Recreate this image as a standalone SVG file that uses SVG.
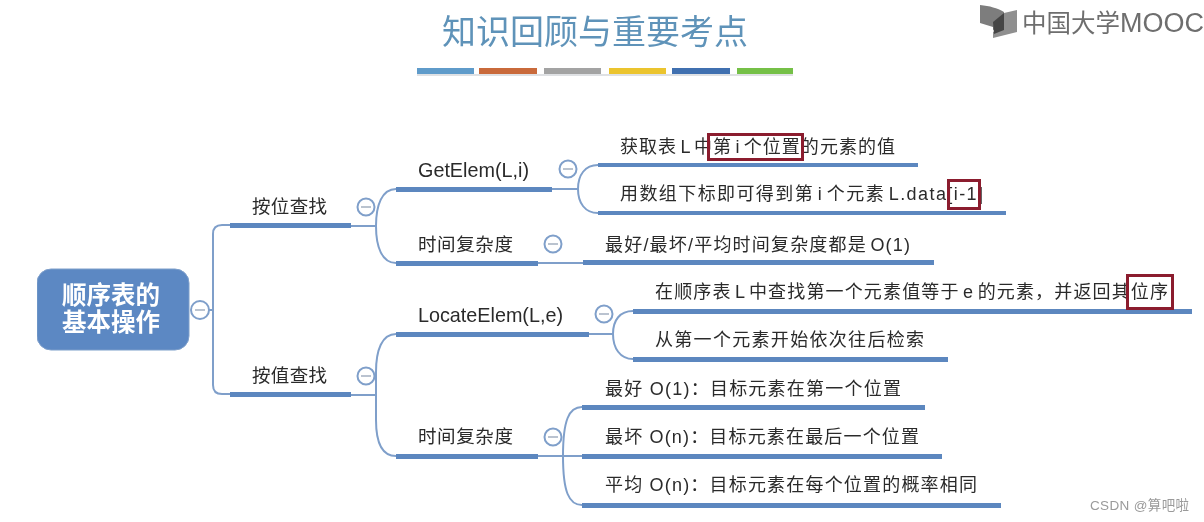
<svg xmlns="http://www.w3.org/2000/svg" width="1204" height="522" viewBox="0 0 1204 522">
<style>
text{font-family:"Liberation Sans","Noto Sans CJK SC",sans-serif;fill:#2b2b2b}
.t{font-size:18px;word-spacing:-2.75px}
.k{font-size:18.500px}
.e{font-size:19.800px}
.b{font-size:18.500px}
.bar{fill:#5b87bf}
.c{fill:none;stroke:#7f9fca;stroke-width:2}
.o{fill:#fff;stroke:#7f9fca;stroke-width:2}
.m{stroke:#a9b4c4;stroke-width:1.6}
.r{fill:none;stroke:#8b1a2e;stroke-width:3}
</style>
<defs><filter id="soft" x="0" y="0" width="100%" height="100%"><feGaussianBlur stdDeviation="0.45"/></filter></defs>
<rect width="1204" height="522" fill="#fff"/>
<g filter="url(#soft)">
<g id="title">
<text x="442" y="44" font-size="34" textLength="306" style="fill:#5f93b9">知识回顾与重要考点</text>
<rect x="417" y="68" width="57" height="6" fill="#5f9bca"/>
<rect x="479" y="68" width="58" height="6" fill="#c96b3b"/>
<rect x="544" y="68" width="57" height="6" fill="#a3a3a3"/>
<rect x="609" y="68" width="57" height="6" fill="#ebc42d"/>
<rect x="672" y="68" width="58" height="6" fill="#3f6fb0"/>
<rect x="737" y="68" width="56" height="6" fill="#74c046"/>
<rect x="417" y="74" width="376" height="2" fill="#dfe1e4"/>
</g>
<g id="logo">
<path d="M980 5C990 6 997 8 1004 12L1004 26L993 30L993 27L980 23Z" fill="#7d7d7d"/>
<polygon points="1004,13 1017,10 1017,32 993,38 993,32 1004,28" fill="#8f8f8f"/>
<polygon points="1004,13 1004,30 994,34 993,22" fill="#454545"/>
<text y="32" style="fill:#6e6e6e"><tspan x="1022" font-size="24.500">中国大学</tspan><tspan x="1120" font-size="27">MOOC</tspan></text>
</g>
<g id="connectors">
<path class="c" d="M209 310H213M230 225H222Q213 225 213 234V385Q213 394 222 394H230"/>
<path class="c" d="M351 226H376M396 189C382 189 376 205 376 226C376 247 382 263 396 263"/>
<path class="c" d="M351 395H376M396 334C382 334 376 350 376 372V420C376 442 382 456 396 456"/>
<path class="c" d="M552 189H578M598 165C585 165 578 175 578 189C578 203 585 213 598 213"/>
<path class="c" d="M538 263H583"/>
<path class="c" d="M589 334H613M633 311C620 311 613 320 613 334C613 348 620 359 633 359"/>
<path class="c" d="M538 456H582M582 407C569 407 563 420 563 456C563 492 569 505 582 505"/>
</g>
<g id="root">
<rect x="37" y="269" width="152" height="81" rx="14" fill="#5b88c3" stroke="#7f9fca" stroke-width="1"/>
<text x="62" y="304" font-size="24.500" font-weight="700" textLength="98" style="fill:#fff">顺序表的</text>
<text x="62" y="331" font-size="24.500" font-weight="700" textLength="98" style="fill:#fff">基本操作</text>
<circle class="o" cx="200" cy="310" r="9"/><line class="m" x1="195" y1="310" x2="205" y2="310"/>
</g>
<g id="n-position">
<rect class="bar" x="230" y="223" width="121" height="5"/>
<text class="b" x="252" y="213" textLength="75">按位查找</text>
<circle class="o" cx="366" cy="207" r="8.500"/><line class="m" x1="361" y1="207" x2="371" y2="207"/>
</g>
<g id="n-value">
<rect class="bar" x="230" y="392" width="121" height="5"/>
<text class="b" x="252" y="382" textLength="75">按值查找</text>
<circle class="o" cx="366" cy="376" r="8.500"/><line class="m" x1="361" y1="376" x2="371" y2="376"/>
</g>
<g id="n-getelem">
<rect class="bar" x="396" y="187" width="156" height="5"/>
<text class="e" x="418" y="177" textLength="111">GetElem(L,i)</text>
<circle class="o" cx="568" cy="169" r="8.500"/><line class="m" x1="563" y1="169" x2="573" y2="169"/>
</g>
<g id="n-time1">
<rect class="bar" x="396" y="261" width="142" height="5"/>
<text class="k" x="418" y="251" textLength="95">时间复杂度</text>
<circle class="o" cx="553" cy="244" r="8.500"/><line class="m" x1="548" y1="244" x2="558" y2="244"/>
</g>
<g id="n-locate">
<rect class="bar" x="396" y="332" width="193" height="5"/>
<text class="e" x="418" y="322" textLength="145">LocateElem(L,e)</text>
<circle class="o" cx="604" cy="314" r="8.500"/><line class="m" x1="599" y1="314" x2="609" y2="314"/>
</g>
<g id="n-time2">
<rect class="bar" x="396" y="454" width="142" height="5"/>
<text class="k" x="418" y="443" textLength="95">时间复杂度</text>
<circle class="o" cx="553" cy="437" r="8.500"/><line class="m" x1="548" y1="437" x2="558" y2="437"/>
</g>
<g id="l1">
<rect class="bar" x="598" y="163" width="320" height="4"/>
<text class="t" x="620" y="153" textLength="275">获取表 L 中第 i 个位置的元素的值</text>
<rect class="r" x="708.500" y="134.500" width="94" height="25"/>
</g>
<g id="l2">
<rect class="bar" x="598" y="211" width="408" height="4"/>
<text class="t" x="620" y="200" textLength="363">用数组下标即可得到第 i 个元素 L.data[i-1]</text>
<rect class="r" x="948.500" y="180.500" width="31" height="28"/>
</g>
<g id="l3">
<rect class="bar" x="583" y="260" width="351" height="5"/>
<text class="t" x="605" y="251" textLength="305">最好/最坏/平均时间复杂度都是 O(1)</text>
</g>
<g id="l4">
<rect class="bar" x="633" y="309" width="559" height="5"/>
<text class="t" x="655" y="298" textLength="513">在顺序表 L 中查找第一个元素值等于 e 的元素，并返回其位序</text>
<rect class="r" x="1127.500" y="275.500" width="45" height="33"/>
</g>
<g id="l5">
<rect class="bar" x="633" y="357" width="315" height="5"/>
<text class="t" x="655" y="346" textLength="269">从第一个元素开始依次往后检索</text>
</g>
<g id="l6">
<rect class="bar" x="582" y="405" width="343" height="5"/>
<text class="t" x="605" y="395" textLength="296" style="word-spacing:0">最好 O(1)：目标元素在第一个位置</text>
</g>
<g id="l7">
<rect class="bar" x="582" y="454" width="360" height="5"/>
<text class="t" x="605" y="443" textLength="314" style="word-spacing:0">最坏 O(n)：目标元素在最后一个位置</text>
</g>
<g id="l8">
<rect class="bar" x="582" y="503" width="419" height="5"/>
<text class="t" x="605" y="491" textLength="372" style="word-spacing:0">平均 O(n)：目标元素在每个位置的概率相同</text>
</g>
<text x="1090" y="510" font-size="13.500" textLength="99" style="fill:#9a9a9a">CSDN @算吧啦</text>
</g>
</svg>
